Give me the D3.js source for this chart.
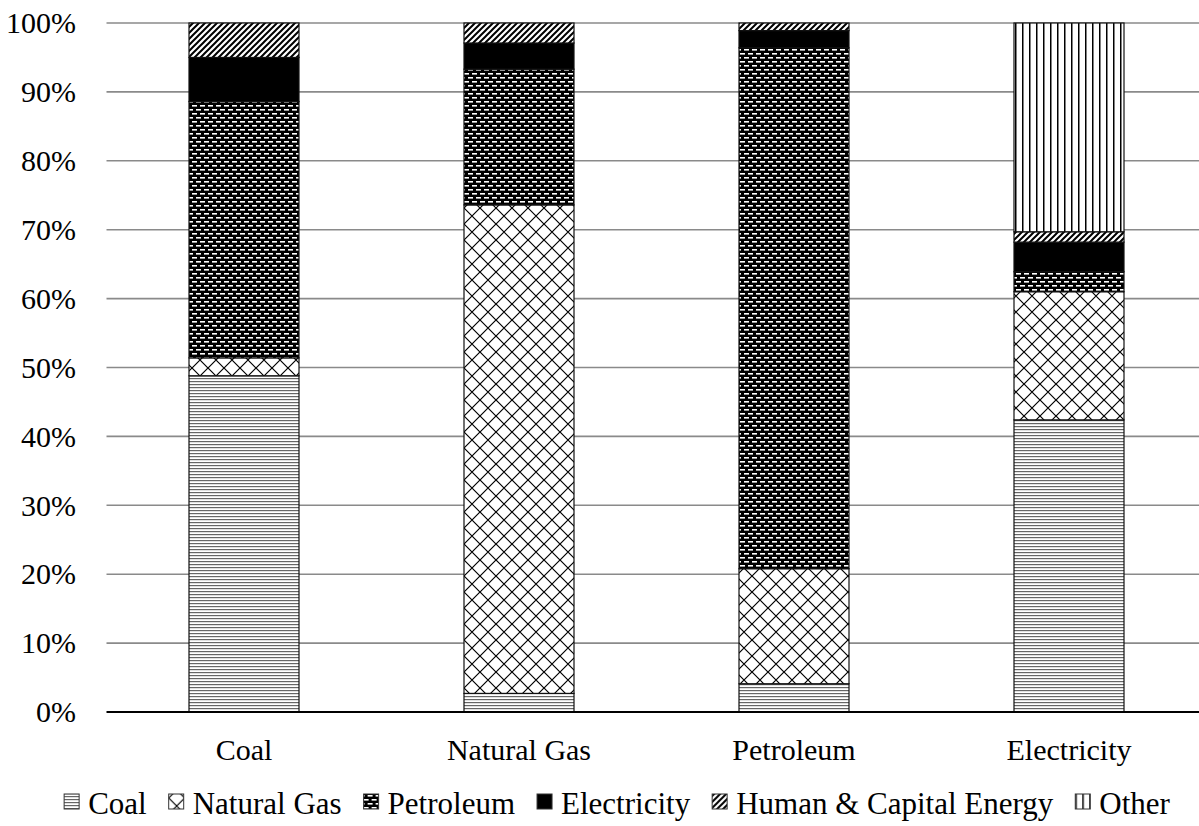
<!DOCTYPE html>
<html><head><meta charset="utf-8">
<script src="https://cdn.jsdelivr.net/npm/d3@7"></script>
</head><body style="margin:0">
<svg id="chart" width="1199" height="826" style="display:block;background:#fff"></svg>
<script>
const categories = ["Coal", "Natural Gas", "Petroleum", "Electricity"];
const seriesNames = ["Coal", "Natural Gas", "Petroleum", "Electricity", "Human & Capital Energy", "Other"];
const coalShare     = [48.8, 2.7, 4.1, 42.4];
const gasShare      = [2.6, 70.9, 16.7, 18.6];
const petroleumShare= [37.2, 19.7, 75.6, 2.9];
const electricityShare = [6.4, 3.8, 2.5, 4.3];
const humanCapitalShare = [5.0, 2.9, 1.1, 1.5];
const otherShare    = [0, 0, 0, 30.3];
const yTicks = [0, 10, 20, 30, 40, 50, 60, 70, 80, 90, 100];

const seriesValues = [coalShare, gasShare, petroleumShare, electricityShare, humanCapitalShare, otherShare];
const patternIds = ["pCoal", "pGas", "pPet", "pElec", "pHum", "pOther"];

const FONT = '"Liberation Serif"';
const svg = d3.select("#chart");
const defs = svg.append("defs");

function pat(id, w, h) {
  return defs.append("pattern").attr("id", id).attr("patternUnits", "userSpaceOnUse")
    .attr("width", w).attr("height", h);
}
let p = pat("pCoal", 6, 3);
p.append("rect").attr("width", 6).attr("height", 3).attr("fill", "#fff");
p.append("rect").attr("y", 0).attr("width", 6).attr("height", 1.2).attr("fill", "#666");
p = pat("pGas", 16, 16);
p.append("rect").attr("width", 16).attr("height", 16).attr("fill", "#fff");
p.append("path").attr("d", "M0,0L16,16M16,0L0,16").attr("stroke", "#000").attr("stroke-width", 1.2).attr("fill", "none");
p = pat("pPet", 8, 8);
p.append("rect").attr("width", 8).attr("height", 8).attr("fill", "#000");
p.append("rect").attr("x", 0).attr("y", 1).attr("width", 5).attr("height", 1.6).attr("fill", "#fff");
p.append("rect").attr("x", 4).attr("y", 5).attr("width", 5).attr("height", 1.6).attr("fill", "#fff");
p.append("rect").attr("x", -4).attr("y", 5).attr("width", 5).attr("height", 1.6).attr("fill", "#fff");
p = pat("pElec", 4, 4);
p.append("rect").attr("width", 4).attr("height", 4).attr("fill", "#000");
p = pat("pHum", 6, 6);
p.append("rect").attr("width", 6).attr("height", 6).attr("fill", "#fff");
p.append("path").attr("d", "M-1,7L7,-1M-4,4L4,-4M2,10L10,2").attr("stroke", "#000").attr("stroke-width", 2).attr("fill", "none");
p = pat("pOther", 7, 6);
p.append("rect").attr("width", 7).attr("height", 6).attr("fill", "#fff");
p.append("rect").attr("x", 0).attr("width", 1.5).attr("height", 6).attr("fill", "#000");

const x = d3.scaleBand().domain(categories).range([106.5, 1206.5]).paddingInner(0.6).paddingOuter(0.3);
const y = d3.scaleLinear().domain([0, 100]).range([712, 23]);

svg.append("g").selectAll("line").data(yTicks.filter(d => d > 0)).join("line")
  .attr("x1", 106.5).attr("x2", 1199).attr("y1", d => y(d)).attr("y2", d => y(d))
  .attr("stroke", "#8a8a8a").attr("stroke-width", 1.6);

svg.append("g").selectAll("text").data(yTicks).join("text")
  .attr("x", 76).attr("y", d => y(d)).attr("dy", "0.34em").attr("text-anchor", "end")
  .style("font-family", FONT).style("font-size", "30px").attr("fill", "#000")
  .text(d => d + "%");

const rows = categories.map((c, i) => {
  const r = { cat: c };
  seriesNames.forEach((s, j) => r[s] = seriesValues[j][i]);
  return r;
});
const stack = d3.stack().keys(seriesNames)(rows);

const gBars = svg.append("g");
stack.forEach((layer, j) => {
  gBars.append("g").selectAll("rect").data(layer.filter(d => d[1] - d[0] > 0)).join("rect")
    .attr("x", d => x(d.data.cat)).attr("width", x.bandwidth())
    .attr("y", d => y(d[1])).attr("height", d => y(d[0]) - y(d[1]))
    .attr("fill", `url(#${patternIds[j]})`)
    .attr("stroke", "#111").attr("stroke-width", 1.2);
});

svg.append("line").attr("x1", 106.5).attr("x2", 1199).attr("y1", 712).attr("y2", 712)
  .attr("stroke", "#000").attr("stroke-width", 2);

svg.append("g").selectAll("text").data(categories).join("text")
  .attr("x", d => x(d) + x.bandwidth() / 2).attr("y", 760).attr("text-anchor", "middle")
  .style("font-family", FONT).style("font-size", "30px").attr("fill", "#000").text(d => d);

const leg = svg.append("g");
const items = leg.selectAll("g").data(seriesNames).join("g");
items.append("rect").attr("width", 15).attr("height", 15).attr("y", -20)
  .attr("fill", (d, i) => `url(#${patternIds[i]})`).attr("stroke", "#333").attr("stroke-width", 1);
items.append("text").attr("x", 24).attr("y", 0)
  .style("font-family", FONT).style("font-size", "31px").attr("fill", "#000").text(d => d);
let cx = 0;
const positions = [];
items.each(function(d) {
  const w = 24 + d3.select(this).select("text").node().getComputedTextLength();
  positions.push(cx);
  cx += w + 22;
});
const total = cx - 22;
const startX = 617 - total / 2;
items.attr("transform", (d, i) => `translate(${startX + positions[i]},814)`);
</script>
</body></html>
